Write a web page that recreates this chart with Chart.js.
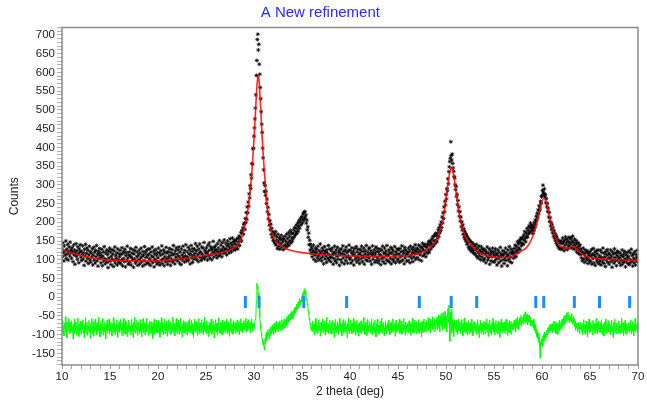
<!DOCTYPE html>
<html><head><meta charset="utf-8">
<script src="https://cdn.jsdelivr.net/npm/chart.js@4.4.0/dist/chart.umd.min.js"></script>
<style>html,body{margin:0;padding:0;background:#fff;}canvas{display:block;}</style>
</head><body>
<canvas id="c" width="647" height="403"></canvas>
<script>
// ---- data ----
const thetaStart = 10, thetaStep = 0.05;   // sampling grid of the observed / difference patterns
const observed = [
131,108,145,119,97,137,124,112,150,103,128,116,141,99,122,134,110,147,118,126,
104,132,121,95,139,113,126,88,118,143,109,124,101,135,115,92,129,120,140,107,
123,98,114,137,102,119,85,128,110,141,96,117,131,104,125,90,113,136,100,121,
94,118,107,129,86,112,133,99,120,91,125,108,138,97,115,83,122,103,130,111,
117,92,106,128,84,110,121,97,135,103,89,118,100,126,93,114,79,123,105,131,
96,120,87,109,127,101,115,82,124,98,134,91,112,105,119,86,129,100,93,116,
108,125,90,114,99,132,84,117,103,122,95,128,81,111,119,97,136,104,88,113,
121,93,110,130,86,106,118,99,127,80,115,102,124,91,133,96,108,120,85,112,
100,126,89,117,104,131,94,109,83,122,113,98,135,87,118,106,125,92,111,128,
90,115,103,129,85,120,97,110,134,92,107,123,81,116,101,127,95,112,88,119,
105,131,93,118,86,112,124,99,137,90,115,103,126,84,120,108,95,133,101,117,
88,122,106,96,130,111,85,119,102,127,94,113,138,98,116,89,124,107,132,100,
115,97,126,109,134,91,120,103,87,128,112,99,136,106,118,94,125,110,140,102,
96,121,108,133,99,116,127,89,114,138,105,122,93,130,111,101,128,117,143,107,
124,100,136,113,95,128,118,142,106,121,98,134,115,104,131,110,146,102,125,119,
108,132,117,99,139,123,111,145,104,127,135,114,100,129,121,149,107,133,118,126,
137,112,125,105,143,119,131,110,151,122,115,139,127,108,146,124,134,117,153,129,
120,144,128,113,137,150,125,141,118,133,156,127,145,121,139,158,132,147,126,152,
141,127,149,132,155,140,129,158,147,163,138,160,153,172,150,178,171,185,168,194,
198,181,210,199,226,208,241,225,254,243,276,265,298,290,327,318,357,355,396,398,
430,452,476,505,540,592,632,688,702,660,675,622,595,560,530,495,462,440,398,372,
340,305,282,298,272,283,250,262,228,240,209,221,192,204,180,195,168,184,160,175,
152,171,148,166,143,175,139,161,152,130,168,147,136,159,128,154,143,165,134,156,
148,127,155,138,162,131,150,141,168,135,157,146,172,139,163,151,178,145,170,158,
150,171,158,180,162,186,167,175,192,170,183,198,176,190,205,184,200,211,193,208,
215,198,222,205,226,210,229,214,220,198,206,180,188,160,171,140,152,126,141,118,
133,108,126,117,139,101,122,112,131,96,119,128,105,136,111,99,124,115,142,104,
120,97,131,108,125,89,116,135,102,122,110,93,127,118,104,138,99,113,129,107,
95,124,106,131,114,88,120,103,136,97,117,126,92,109,133,101,121,112,85,127,
118,100,129,93,115,137,105,122,89,113,126,98,134,107,119,91,124,110,139,102,
126,104,91,119,132,97,113,123,86,116,130,101,109,135,94,121,106,128,99,114,
90,118,127,103,136,111,95,122,107,131,88,115,124,100,138,108,97,120,113,129,
105,132,96,117,124,88,113,137,101,119,109,127,93,115,134,98,122,106,130,92,
121,99,114,128,87,110,125,103,136,95,118,107,131,90,116,123,100,138,111,97,
113,126,94,119,104,133,89,117,128,101,123,96,112,135,106,92,121,115,129,99,
102,127,115,93,130,108,121,97,137,111,99,124,118,89,133,105,126,113,96,120,
117,98,131,109,123,92,136,112,104,128,119,95,133,107,125,116,140,101,122,130,
106,129,118,139,100,124,113,135,121,97,131,144,110,126,137,115,141,123,108,133,
136,117,142,126,148,120,139,151,128,145,133,156,140,162,137,151,165,143,170,152,
164,148,171,158,180,163,186,172,193,178,201,186,214,198,225,210,241,228,256,246,
274,262,290,284,316,303,335,348,362,371,415,378,366,382,357,345,336,322,318,300,
287,296,268,275,247,258,230,241,216,228,203,214,188,201,179,193,168,183,160,176,
154,170,149,165,141,160,146,133,155,128,150,137,124,147,131,120,144,126,139,117,
136,114,128,141,109,123,132,104,119,137,111,126,100,121,134,107,117,129,98,124,
103,127,115,92,121,110,134,99,118,106,129,88,113,124,97,119,108,131,94,116,
122,95,110,129,101,117,86,113,126,104,92,120,108,133,97,115,83,111,124,100,
114,90,121,105,131,98,117,109,84,126,112,101,135,95,119,107,128,92,116,123,
118,104,130,112,139,121,108,135,126,148,119,142,131,152,127,146,158,137,155,143,
160,141,166,152,175,158,148,171,163,184,160,178,169,190,172,185,198,176,193,187,
182,170,191,178,199,186,206,195,216,204,224,212,233,222,244,231,238,256,250,268,
272,285,299,280,276,289,268,274,252,263,241,250,229,238,214,226,202,212,190,199,
181,193,172,185,163,177,158,170,151,164,144,160,139,153,134,150,131,147,128,145,
150,129,143,158,132,147,124,152,139,161,130,145,155,127,149,138,160,133,146,156,
142,159,131,150,163,137,146,128,155,140,134,151,121,143,130,146,117,136,124,140,
114,129,105,122,97,118,131,102,115,93,126,108,119,99,124,104,90,117,111,98,
121,95,110,127,88,115,103,130,92,112,120,85,108,124,99,116,93,126,104,89,
111,97,125,86,106,119,94,131,102,90,117,108,82,122,99,113,127,93,105,118,
88,114,103,126,95,109,80,121,100,116,91,129,106,97,118,84,112,123,99,107,
120,92,104,117,85,111,98,126,89,108,115,94,122,102,81,113,96,119,105,90,
109,123,87,101,118,93,128,97,111,83,116,104,92,121,99,86,114,107,125,95,
103];
const difference = [
-74,-96,-61,-88,-103,-70,-84,-52,-93,-78,-109,-66,-89,-75,-57,-98,-81,-68,-94,-85,
-63,-92,-79,-112,-71,-87,-58,-97,-82,-66,-101,-76,-90,-55,-84,-105,-72,-91,-64,-80,
-99,-69,-85,-60,-94,-77,-108,-73,-88,-54,-96,-81,-67,-102,-75,-89,-62,-93,-79,-110,
-70,-86,-57,-98,-83,-65,-104,-77,-91,-59,-87,-74,-100,-68,-95,-80,-53,-90,-76,-106,
-82,-64,-97,-73,-88,-56,-101,-79,-93,-67,-84,-111,-72,-90,-61,-96,-78,-86,-58,-99,
-75,-92,-66,-87,-104,-71,-83,-55,-95,-80,-69,-100,-77,-91,-60,-85,-107,-73,-89,-65,
-94,-78,-59,-90,-81,-103,-68,-86,-57,-97,-74,-88,-63,-99,-82,-70,-105,-76,-92,-61,
-84,-69,-100,-77,-93,-58,-88,-73,-108,-66,-91,-80,-54,-96,-72,-87,-62,-102,-79,-90,
-67,-98,-83,-60,-92,-76,-105,-70,-86,-57,-95,-81,-68,-101,-74,-89,-56,-93,-78,-84,
-102,-71,-88,-63,-97,-80,-66,-94,-77,-110,-69,-85,-59,-99,-83,-72,-91,-61,-96,-75,
-86,-62,-95,-79,-107,-70,-89,-55,-93,-81,-67,-100,-76,-87,-58,-98,-73,-90,-64,-104,
-78,-92,-60,-85,-71,-99,-82,-65,-96,-74,-88,-53,-94,-80,-69,-103,-77,-91,-57,-86,
-97,-68,-84,-61,-100,-75,-90,-56,-93,-79,-106,-72,-87,-63,-95,-81,-70,-98,-66,-89,
-73,-101,-78,-64,-92,-83,-58,-96,-76,-88,-62,-99,-71,-85,-108,-74,-90,-59,-94,-80,
-65,-87,-102,-72,-91,-57,-84,-97,-69,-79,-94,-60,-89,-76,-100,-67,-86,-54,-93,-81,
-77,-98,-63,-90,-74,-105,-82,-66,-95,-71,-87,-58,-99,-78,-92,-64,-84,-109,-73,-88,
-60,-93,-80,-69,-101,-76,-89,-55,-96,-82,-67,-97,-74,-86,-61,-100,-79,-91,-65,-85,
-94,-71,-87,-59,-98,-78,-66,-92,-83,-104,-70,-88,-57,-95,-80,-73,-99,-63,-90,-76,
-82,-68,-96,-74,-87,-61,-93,-79,-65,-100,-75,-89,-58,-91,-77,-69,-95,-72,-84,-62,
-88,-70,-79,-56,-93,-74,-65,-90,-78,-60,-86,-71,-95,-66,-82,-58,-76,-91,-69,-80,
-72,-85,-66,-58,-45,-10,37,22,30,-5,12,-30,-52,-70,-84,-95,-104,-112,-120,-128,
-118,-136,-141,-110,-125,-98,-117,-92,-110,-86,-103,-95,-112,-84,-99,-79,-96,-88,-74,-93,
-81,-99,-70,-88,-76,-94,-65,-86,-79,-71,-92,-67,-84,-74,-63,-89,-72,-80,-60,-77,
-86,-66,-78,-58,-83,-70,-62,-76,-54,-72,-60,-48,-68,-56,-64,-44,-60,-50,-38,-55,
-46,-58,-36,-49,-30,-44,-26,-40,-33,-18,-35,-24,-12,-28,-16,-4,-20,-8,-14,2,
-10,-2,12,-6,18,5,23,9,15,-8,-3,-22,-18,-42,-38,-60,-56,-75,-70,-88,
-78,-92,-64,-85,-73,-100,-69,-88,-57,-94,-81,-67,-98,-75,-90,-60,-86,-72,-104,-79,
-66,-93,-80,-58,-95,-74,-87,-63,-101,-77,-89,-54,-92,-82,-69,-97,-73,-85,-61,-96,
-84,-70,-99,-76,-62,-91,-80,-107,-68,-88,-59,-95,-78,-86,-65,-100,-74,-90,-57,-83,
-92,-67,-81,-103,-72,-87,-60,-96,-79,-70,-94,-64,-85,-77,-108,-71,-89,-56,-97,-80,
-75,-90,-61,-86,-98,-69,-83,-57,-93,-78,-66,-101,-73,-88,-62,-95,-80,-71,-104,-84,
-68,-94,-79,-63,-97,-82,-70,-89,-55,-91,-76,-99,-67,-85,-74,-102,-60,-87,-78,-93,
-81,-65,-96,-73,-88,-58,-100,-77,-90,-69,-84,-62,-95,-80,-106,-71,-86,-59,-92,-75,
-99,-74,-87,-64,-93,-79,-56,-97,-72,-85,-67,-103,-81,-91,-63,-88,-76,-98,-70,-84,
-61,-89,-77,-100,-71,-86,-66,-95,-82,-58,-92,-75,-87,-69,-104,-79,-62,-94,-83,-73,
-90,-68,-84,-59,-97,-76,-88,-64,-99,-80,-72,-93,-57,-86,-78,-101,-66,-91,-74,-85,
-70,-95,-81,-63,-88,-74,-102,-67,-90,-79,-56,-96,-83,-71,-94,-61,-87,-77,-98,-65,
-86,-73,-92,-60,-97,-80,-68,-89,-76,-105,-64,-84,-95,-70,-58,-91,-79,-67,-93,-74,
-62,-88,-77,-55,-90,-72,-83,-59,-95,-70,-64,-86,-52,-79,-68,-91,-57,-75,-84,-61,
-73,-54,-86,-65,-48,-80,-60,-92,-51,-70,-44,-78,-57,-88,-41,-66,-50,-83,-38,-62,
-75,-50,-92,-42,-30,-67,-21,-55,-118,-40,-74,-33,-96,-58,-88,-65,-105,-72,-60,-84,
-70,-93,-62,-85,-100,-74,-58,-90,-79,-66,-97,-81,-60,-88,-73,-104,-69,-84,-56,-92,
-78,-95,-67,-86,-101,-72,-89,-63,-98,-80,-70,-94,-84,-59,-91,-76,-103,-68,-87,-81,
-65,-92,-79,-99,-71,-86,-60,-94,-77,-108,-73,-88,-62,-96,-82,-69,-91,-75,-100,-64,
-87,-73,-97,-66,-84,-58,-93,-78,-105,-70,-89,-61,-96,-80,-74,-99,-67,-85,-57,-92,
-76,-101,-69,-88,-62,-94,-80,-72,-98,-64,-86,-77,-107,-70,-91,-59,-83,-95,-68,-79,
-90,-66,-84,-97,-73,-59,-88,-80,-102,-69,-93,-75,-63,-96,-82,-71,-99,-65,-86,-78,
-70,-87,-61,-79,-66,-92,-58,-75,-83,-52,-71,-64,-86,-55,-73,-60,-49,-77,-62,-68,
-54,-72,-46,-65,-58,-39,-70,-52,-63,-45,-74,-57,-66,-48,-69,-60,-53,-76,-61,-70,
-64,-78,-58,-83,-69,-90,-74,-96,-85,-105,-92,-110,-98,-120,-106,-130,-163,-118,-126,-112,
-125,-104,-131,-99,-118,-93,-112,-101,-96,-108,-88,-100,-82,-95,-78,-91,-84,-72,-90,-79,
-86,-70,-95,-76,-88,-64,-92,-80,-73,-97,-68,-85,-77,-99,-71,-83,-62,-90,-75,-81,
-66,-84,-58,-77,-70,-52,-74,-63,-48,-69,-57,-42,-64,-51,-39,-60,-47,-67,-55,-62,
-50,-68,-44,-61,-72,-53,-65,-58,-79,-64,-88,-70,-82,-75,-93,-68,-86,-78,-97,-72,
-84,-66,-91,-77,-100,-70,-87,-60,-95,-81,-73,-99,-64,-89,-76,-105,-71,-86,-58,-94,
-79,-92,-67,-85,-74,-101,-62,-88,-80,-69,-96,-75,-90,-57,-83,-98,-71,-87,-64,-93,
-78,-95,-68,-86,-60,-99,-77,-89,-72,-104,-66,-84,-91,-58,-80,-97,-73,-88,-63,-92,
-85,-70,-100,-76,-92,-61,-87,-79,-108,-67,-94,-82,-59,-90,-74,-98,-69,-86,-77,-96,
-63,-89,-78,-97,-71,-85,-56,-93,-80,-68,-102,-75,-88,-62,-95,-83,-70,-99,-76,-90,
-81,-67,-94,-74,-87,-60,-98,-79,-91,-65,-85,-103,-72,-88,-57,-93,-77,-84,-69,-96,
-80];
const calcTheta = [10,11,12,13,14,15,16,17,18,19,20,21,22,23,24,25,26,27,
27.5,28,28.3,28.6,28.8,29,29.2,29.4,29.6,29.8,
30,30.1,30.2,30.3,30.4,30.45,30.5,30.6,30.7,30.8,30.9,
31,31.1,31.2,31.3,31.4,31.5,31.6,31.8,32,32.3,32.6,
33,33.5,34,35,36,37,38,39,40,42,44,45,46,47,
47.5,48,48.5,49,49.3,49.6,49.8,50,50.2,50.4,50.57,50.7,50.9,
51.1,51.3,51.5,51.8,52.1,52.5,53,53.5,54,55,56,57,
57.5,58,58.5,59,59.3,59.6,59.8,60,60.2,60.4,60.6,60.8,
61.1,61.4,61.7,62,62.5,63,63.3,63.6,64,64.5,65,66,67,68,69,70];
const calcCounts = [126,118,111,106,101,99,98,97,97,97,97,99,101,104,108,112,116,122,
127,133,139,151,166,186,210,240,283,343,
422,468,518,562,588,593,586,550,502,452,405,
365,328,294,263,236,214,197,176,162,150,141,
134,128,124,119,116,114,112,111,110,109,109,110,111,115,
120,125,136,153,171,199,226,262,301,334,346,339,310,
271,235,206,176,157,142,129,119,113,107,106,110,
118,125,136,160,183,213,237,256,264,256,237,213,
181,158,143,135,129,134,136,129,118,110,106,103,101,100,99,98];
const reflectionTheta = [29.1,30.53,35.19,39.65,47.22,50.54,53.2,59.35,60.18,63.37,65.99,69.13];
const xTickLabels = [10,15,20,25,30,35,40,45,50,55,60,65,70];
const yTickLabels = [-150,-100,-50,0,50,100,150,200,250,300,350,400,450,500,550,600,650,700];

// ---- styling / layout ----
const FONT = "Arial, 'Liberation Sans', sans-serif";
const reflectionMarkY = -12.5;
const xMinor = Array.from({length: 61}, (_, i) => 10 + i);
const yMinor = Array.from({length: 91}, (_, i) => -180 + 10 * i);
const gridTheta = i => Math.round((thetaStart + i * thetaStep) * 100) / 100;

const framePlugin = {
  id: 'frame',
  afterDatasetsDraw(chart) {
    const {ctx, chartArea: a} = chart;
    ctx.save();
    ctx.strokeStyle = '#8a8a8a';
    ctx.lineWidth = 1.5;
    ctx.strokeRect(a.left, a.top, a.right - a.left, a.bottom - a.top);
    ctx.restore();
  }
};

new Chart(document.getElementById('c'), {
  type: 'scatter',
  data: {
    datasets: [
      { label: 'Reflections', order: 0,
        data: reflectionTheta.map(x => ({x, y: reflectionMarkY})),
        pointStyle: 'line', pointRotation: 90, pointRadius: 6,
        borderColor: '#1e8cff', borderWidth: 3 },
      { label: 'Calculated', order: 1, showLine: true,
        data: calcTheta.map((x, i) => ({x, y: calcCounts[i]})),
        borderColor: 'rgba(255,0,0,0.85)', borderWidth: 1.6, pointRadius: 0,
        cubicInterpolationMode: 'monotone' },
      { label: 'Observed', order: 2,
        data: observed.map((y, i) => ({x: gridTheta(i), y})),
        pointStyle: 'star', pointRadius: 2, borderWidth: 1,
        borderColor: 'rgba(0,0,0,0.8)', backgroundColor: 'rgba(0,0,0,0.8)' },
      { label: 'Difference', order: 3, showLine: true,
        data: difference.map((y, i) => ({x: gridTheta(i), y})),
        borderColor: '#00ff00', borderWidth: 1, pointRadius: 0 }
    ]
  },
  options: {
    responsive: false, animation: false, devicePixelRatio: 1,
    layout: {padding: {left: 0, right: 6.3, top: 0, bottom: 0}},
    plugins: {
      legend: {display: false}, tooltip: {enabled: false},
      title: {display: true, text: 'A New refinement', color: '#2a2aff',
        font: {family: FONT, size: 15, weight: 'normal'}, padding: {top: 4, bottom: 5.5}}
    },
    scales: {
      x: {
        type: 'linear', min: 10, max: 70,
        afterBuildTicks: s => { s.ticks = xMinor.map(v => ({value: v})); },
        afterFit: s => { s.height = 38; },
        ticks: {autoSkip: false, maxRotation: 0, padding: 1, color: '#222',
          font: {family: FONT, size: 11.5},
          callback: v => xTickLabels.includes(v) ? String(v) : ''},
        grid: {drawOnChartArea: false, tickLength: 4, tickColor: '#a0a0a0'},
        border: {display: false},
        title: {display: true, text: '2 theta (deg)', color: '#222',
          font: {family: FONT, size: 12}, padding: {top: 0, bottom: 4}}
      },
      y: {
        type: 'linear', min: -181, max: 720,
        afterBuildTicks: s => { s.ticks = yMinor.map(v => ({value: v})); },
        afterFit: s => { s.width = 62; },
        ticks: {autoSkip: false, padding: 2, color: '#222',
          font: {family: FONT, size: 11.5},
          callback: v => yTickLabels.includes(v) ? String(v) : ''},
        grid: {drawOnChartArea: false, tickLength: 5, tickColor: '#b0b0b0'},
        border: {display: false},
        title: {display: true, text: 'Counts', color: '#222',
          font: {family: FONT, size: 12}, padding: {top: 7, bottom: 0}}
      }
    }
  },
  plugins: [framePlugin]
});
if (observed.length !== 1201 || difference.length !== 1201) {
  throw new Error('length mismatch: ' + observed.length + ' / ' + difference.length);
}
</script>
</body></html>
